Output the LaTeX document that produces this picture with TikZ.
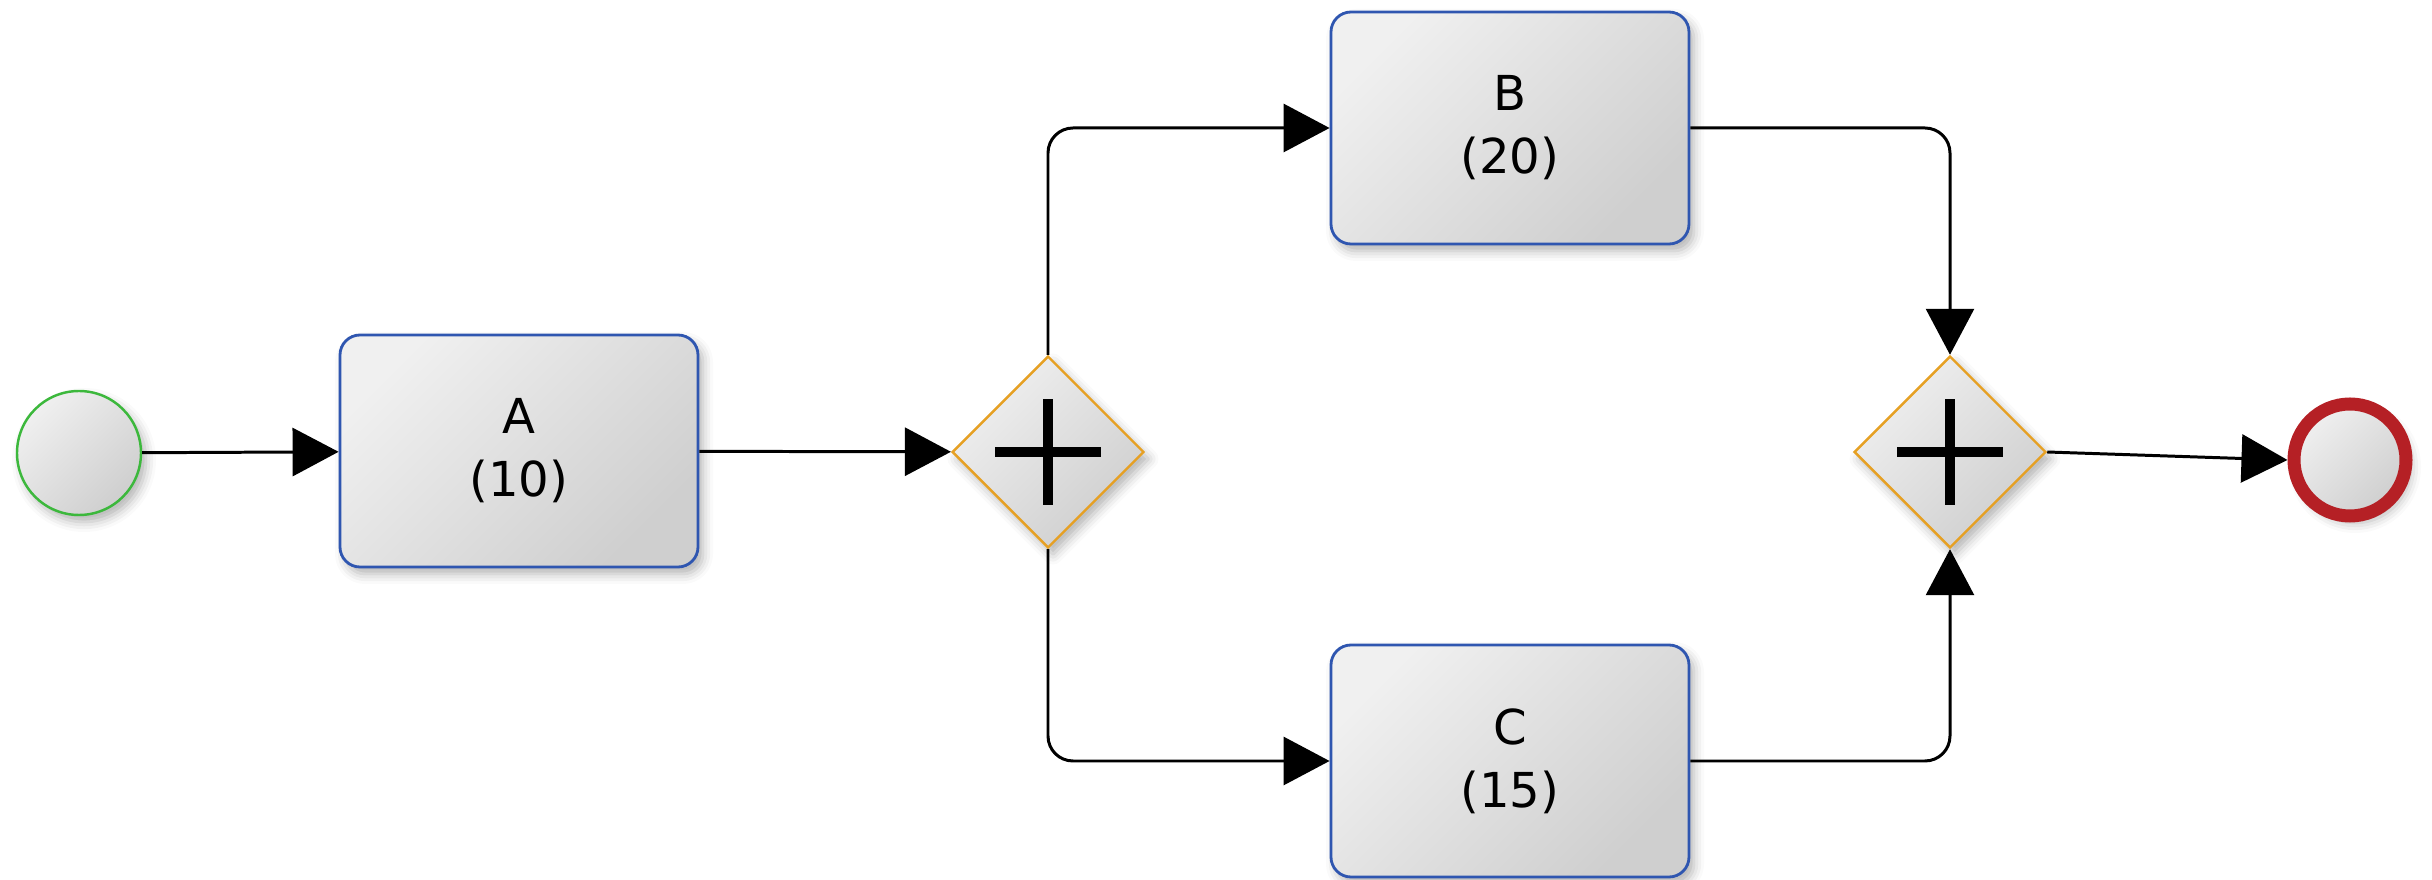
\documentclass[tikz,border=0pt]{standalone}
\usepackage{fontspec}
\setmainfont{DejaVu Sans}
\usetikzlibrary{arrows.meta,shapes.geometric,shadows.blur}

\definecolor{taskblue}{HTML}{2F56B0}
\definecolor{gateorange}{HTML}{E6A023}
\definecolor{startgreen}{HTML}{3CB83C}
\definecolor{endred}{HTML}{B52025}

\tikzset{
  metal/.style={top color=black!6, bottom color=black!19, shading angle=45,
    blur shadow={shadow xshift=0.05cm, shadow yshift=-0.07cm,
      shadow blur radius=0.1cm, shadow opacity=30}},
  task/.style={metal, draw=taskblue, line width=0.8pt, rounded corners=0.2cm,
    minimum width=3.58cm, minimum height=2.32cm, align=center,
    font=\fontsize{13.7}{17.9}\selectfont},
  gate/.style={metal, diamond, draw=gateorange, line width=0.7pt, aspect=1,
    inner sep=0pt, minimum size=1.92cm,
    path picture={\draw[black, line width=2.8pt]
      (path picture bounding box.center) +(-0.53,0) -- +(0.53,0)
      +(0,-0.53) -- +(0,0.53);}},
  startevent/.style={metal, circle, draw=startgreen, line width=0.7pt, minimum size=1.24cm},
  endevent/.style={metal, circle, draw=endred, line width=3.7pt, minimum size=1.12cm},
  flow/.style={line width=0.85pt, -{Triangle[length=0.46cm,width=0.48cm]}, rounded corners=0.25cm}
}

\begin{document}
\begin{tikzpicture}
\useasboundingbox (0,0) rectangle (24.32,8.8);

\node[startevent] (start) at (0.79,4.27) {};
\node[task] (A) at (5.19,4.29) {A\\(10)};
\node[gate] (split) at (10.48,4.28) {};
\node[task] (B) at (15.10,7.52) {B\\(20)};
\node[task] (C) at (15.10,1.19) {C\\(15)};
\node[gate] (join) at (19.50,4.28) {};
\node[endevent] (finish) at (23.50,4.20) {};

\draw[flow] (start) -- (A);
\draw[flow] (A) -- (split);
\draw[flow] (split.north) |- (B.west);
\draw[flow] (split.south) |- (C.west);
\draw[flow] (B.east) -| (join.north);
\draw[flow] (C.east) -| (join.south);
\draw[flow] (join.east) -- (finish.west);

\end{tikzpicture}
\end{document}
